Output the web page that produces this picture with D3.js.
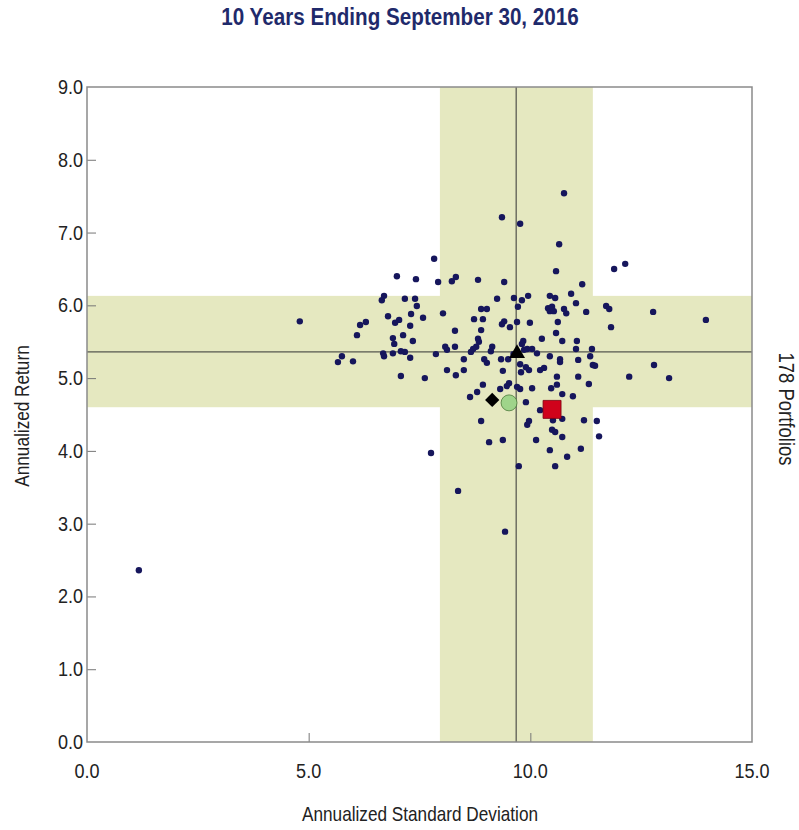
<!DOCTYPE html>
<html>
<head>
<meta charset="utf-8">
<script src="https://cdn.jsdelivr.net/npm/d3@7"></script>
<style>
  body { margin: 0; background: #fff; }
  svg text { font-family: "Liberation Sans Narrow", "Liberation Sans", Arial, sans-serif; }
</style>
</head>
<body>
<div id="chart"></div>
<script>
(function(){
  'use strict';

  // annualized std dev / annualized return of the 178 portfolios
  var portSD = [1.17, 4.80, 13.96, 12.77, 11.89, 12.14, 10.76, 10.65, 10.58, 11.17, 9.36, 9.77, 7.83, 12.79, 13.13, 12.23, 11.55, 11.50,
    7.76, 8.37, 9.43, 9.74, 10.56, 10.83, 11.14, 10.44, 10.72, 10.13, 9.07, 9.38, 8.89, 9.93, 9.97, 10.49, 10.56, 10.51, 10.72, 11.21,
    10.22, 9.90, 8.64, 8.80, 10.72, 10.96,
    6.99, 7.42, 7.92, 8.23, 8.32, 8.82, 6.70, 6.65, 7.17, 7.40, 7.44, 8.03, 7.31, 6.79, 7.58, 7.04, 6.95, 6.29, 6.16, 7.29, 8.30, 7.13,
    6.09, 6.90, 7.35, 6.93, 8.08, 8.30, 8.12, 7.08, 7.17, 6.90, 6.68, 6.70, 7.87, 7.29, 5.75, 6.00, 8.50, 8.12, 8.50, 8.32, 7.08, 7.62,
    8.89, 9.02, 8.73, 8.93, 8.89, 8.82, 8.84, 8.78, 8.71, 8.66, 8.96, 9.02, 8.93,
    9.41, 9.95, 9.63, 9.81, 9.25, 10.44, 10.56, 10.92, 11.03, 9.72, 10.40, 10.44, 10.53, 10.76, 10.81, 11.26, 11.71, 11.78, 9.70, 9.99,
    9.41, 9.36, 9.54, 10.62, 11.82, 10.58, 9.84, 9.81, 10.26, 10.72, 11.05, 9.14, 9.11, 9.93, 10.04, 11.03, 11.39, 10.15, 10.44, 11.35,
    9.34, 9.50, 10.67, 10.67, 11.08, 9.77, 11.41, 11.46, 9.90, 9.97, 10.22, 10.31, 9.38, 9.79, 10.60, 11.08, 9.52, 9.47, 9.32, 9.70,
    9.77, 10.04, 10.47, 10.60, 11.32, 5.66, 9.86, 10.49, 9.62],
    portRet = [2.36, 5.78, 5.80, 5.91, 6.50, 6.57, 7.54, 6.84, 6.47, 6.29, 7.21, 7.12, 6.64, 5.18, 5.00, 5.02, 4.20, 4.41,
    3.97, 3.45, 2.89, 3.79, 3.79, 3.92, 4.03, 4.01, 4.19, 4.15, 4.12, 4.15, 4.41, 4.36, 4.41, 4.29, 4.26, 4.42, 4.44, 4.42,
    4.56, 4.67, 4.74, 4.81, 4.78, 4.75,
    6.40, 6.36, 6.32, 6.33, 6.39, 6.35, 6.13, 6.07, 6.09, 6.09, 5.99, 5.89, 5.88, 5.85, 5.83, 5.80, 5.76, 5.77, 5.73, 5.72, 5.65, 5.59,
    5.59, 5.55, 5.51, 5.47, 5.43, 5.43, 5.39, 5.37, 5.36, 5.34, 5.34, 5.30, 5.33, 5.28, 5.30, 5.23, 5.26, 5.11, 5.11, 5.04, 5.03, 5.00,
    5.95, 5.95, 5.81, 5.81, 5.66, 5.54, 5.50, 5.43, 5.40, 5.36, 5.26, 5.21, 4.91,
    6.32, 6.13, 6.10, 6.07, 6.09, 6.13, 6.10, 6.16, 6.03, 5.98, 5.96, 5.92, 5.92, 5.95, 5.89, 5.91, 5.99, 5.95, 5.77, 5.76,
    5.78, 5.74, 5.70, 5.77, 5.70, 5.62, 5.51, 5.47, 5.54, 5.51, 5.51, 5.43, 5.37, 5.40, 5.40, 5.40, 5.40, 5.34, 5.30, 5.30,
    5.26, 5.26, 5.26, 5.22, 5.25, 5.19, 5.18, 5.17, 5.15, 5.11, 5.11, 5.14, 5.10, 5.08, 5.02, 5.02, 4.93, 4.89, 4.85, 4.88,
    4.85, 4.86, 4.86, 4.91, 4.92, 5.22, 5.39, 5.98, 5.33];

  // universe median and 25th-75th range
  var medianSD = 9.68, medianRet = 5.36,
      bandSD = [7.96, 11.41],
      bandRet = [4.60, 6.13];

  // highlighted portfolios / indices
  var markNames = ['square', 'circle', 'diamond', 'triangle'],
      markSD = [10.49, 9.52, 9.14, 9.70],
      markRet = [4.57, 4.66, 4.70, 5.34],
      markColor = ['#d0021b', '#9fd48a', '#000000', '#000000'];

  var xTicks = [0, 5, 10, 15],
      yTicks = [0, 1, 2, 3, 4, 5, 6, 7, 8, 9];

  var W = 799, H = 830,
      left = 87, right = 752, top = 87, bottom = 742,
      narrow = 0.86;

  var svg = d3.select('#chart').append('svg')
    .attr('width', W)
    .attr('height', H);

  var x = d3.scaleLinear().domain([0, 15]).range([left, right]),
      y = d3.scaleLinear().domain([0, 9]).range([bottom, top]);

  // text squeezed horizontally to look like a narrow face
  function label(px, py, txt, size, anchor, rot) {
    return svg.append('text')
      .attr('transform', 'translate(' + px + ',' + py + ')' + (rot ? ' rotate(' + rot + ')' : '') + ' scale(' + narrow + ',1)')
      .attr('text-anchor', anchor)
      .style('font-size', size + 'px')
      .style('fill', '#222')
      .text(txt);
  }

  label(400, 25, '10 Years Ending September 30, 2016', 24, 'middle')
    .style('font-weight', 'bold')
    .style('fill', '#1f2a6b');

  // shaded bands
  svg.append('rect')
    .attr('x', left).attr('y', y(bandRet[1]))
    .attr('width', right - left).attr('height', y(bandRet[0]) - y(bandRet[1]))
    .style('fill', '#e5e8c0');
  svg.append('rect')
    .attr('x', x(bandSD[0])).attr('y', top)
    .attr('width', x(bandSD[1]) - x(bandSD[0])).attr('height', bottom - top)
    .style('fill', '#e5e8c0');

  // median lines
  svg.append('line')
    .attr('x1', x(medianSD)).attr('x2', x(medianSD))
    .attr('y1', top).attr('y2', bottom)
    .style('stroke', '#333').style('stroke-width', 1);
  svg.append('line')
    .attr('x1', left).attr('x2', right)
    .attr('y1', y(medianRet)).attr('y2', y(medianRet))
    .style('stroke', '#333').style('stroke-width', 1);

  // axes (ticks drawn inward)
  var xAxis = d3.axisTop(x).tickValues(xTicks.slice(1, -1)).tickSize(9).tickFormat(''),
      yAxis = d3.axisRight(y).tickValues(yTicks.slice(1, -1)).tickSize(9).tickFormat('');

  svg.append('g').attr('class', 'x axis')
    .attr('transform', 'translate(0,' + bottom + ')')
    .call(xAxis);
  svg.append('g').attr('class', 'y axis')
    .attr('transform', 'translate(' + left + ',0)')
    .call(yAxis);
  svg.selectAll('.axis .domain').remove();
  svg.selectAll('.axis line').style('stroke', '#777');

  xTicks.forEach(function(d) {
    label(x(d), bottom + 36, d.toFixed(1), 21, 'middle');
  });
  yTicks.forEach(function(d) {
    label(left - 4, y(d) + 7, d.toFixed(1), 21, 'end');
  });

  svg.append('rect')
    .attr('x', left).attr('y', top)
    .attr('width', right - left).attr('height', bottom - top)
    .style('fill', 'none').style('stroke', '#8a8a8a').style('stroke-width', 1.5);

  label(420, 821, 'Annualized Standard Deviation', 20, 'middle');
  label(29, 416, 'Annualized Return', 20, 'middle', -90);
  label(779, 409, '178 Portfolios', 21.5, 'middle', 90);

  // portfolio dots
  svg.selectAll('.pts')
    .data(portSD).enter()
    .append('circle')
    .attr('class', 'pts')
    .attr('cx', function(d) { return x(d); })
    .attr('cy', function(d, i) { return y(portRet[i]); })
    .attr('r', 3.2)
    .style('fill', '#16165c');

  // highlighted markers
  var sym = {
    square: d3.symbol().type(d3.symbolSquare).size(324),
    circle: d3.symbol().type(d3.symbolCircle).size(200),
    diamond: d3.symbol().type(d3.symbolDiamond2).size(130),
    triangle: d3.symbol().type(d3.symbolTriangle).size(110)
  };
  svg.selectAll('.mark')
    .data(markNames).enter()
    .append('path')
    .attr('class', 'mark')
    .attr('transform', function(d, i) { return 'translate(' + x(markSD[i]) + ',' + y(markRet[i]) + ')'; })
    .attr('d', function(d) { return sym[d](); })
    .style('fill', function(d, i) { return markColor[i]; })
    .style('stroke', function(d) { return d === 'circle' ? '#4a7a3a' : (d === 'square' ? '#7a0010' : 'none'); })
    .style('stroke-width', 0.8);

}());
</script>
</body>
</html>
